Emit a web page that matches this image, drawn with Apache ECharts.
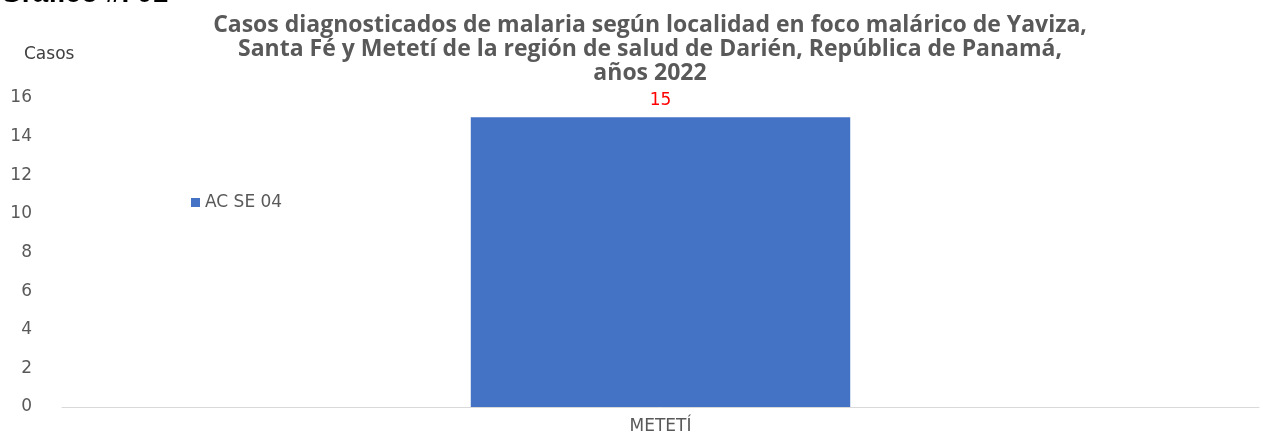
<!DOCTYPE html>
<html>
<head>
<meta charset="utf-8">
<style>
  html, body { margin: 0; padding: 0; background: #fff; }
  #chart { width: 1263px; height: 435px; }
</style>
<script src="https://cdn.jsdelivr.net/npm/echarts@6/dist/echarts.min.js"></script>
</head>
<body>
<div id="chart"></div>
<script>
const categories = ['METETÍ']
const seriesName = 'AC SE 04'
const casos = [15]
const yTicks = { min: 0, max: 16, interval: 2 }

const labelFont = 'DejaVu Sans'
const chart = echarts.init(document.getElementById('chart'))
chart.setOption({
  animation: false,
  textStyle: { fontFamily: labelFont },
  title: {
    text: 'Casos diagnosticados de malaria según localidad en foco malárico de Yaviza,\nSanta Fé y Metetí de la región de salud de Darién, República de Panamá,\naños 2022',
    left: 645,
    textAlign: 'center',
    top: 8,
    textStyle: {
      fontFamily: 'Open Sans',
      fontWeight: 'bold',
      fontSize: 23,
      lineHeight: 24,
      color: '#595959'
    }
  },
  graphic: [
    {
      type: 'text', left: 0, top: -20,
      style: { text: 'Gráfico #. 01', fontFamily: 'Liberation Sans', fontWeight: 'bold', fontSize: 28, fill: '#000' }
    },
    {
      type: 'text', left: 24, top: 46,
      style: { text: 'Casos', fontFamily: labelFont, fontSize: 17, fill: '#404040' }
    }
  ],
  legend: {
    left: 186,
    top: 189,
    icon: 'rect',
    itemWidth: 9,
    itemHeight: 9,
    itemGap: 4,
    textStyle: { fontFamily: labelFont, fontSize: 17, color: '#595959' },
    data: [seriesName]
  },
  grid: { left: 62, right: 4, top: 98, bottom: 27, containLabel: false },
  xAxis: {
    type: 'category',
    data: categories,
    axisTick: { show: false },
    axisLine: { lineStyle: { color: '#d9d9d9' } },
    axisLabel: { fontFamily: labelFont, color: '#595959', fontSize: 17, margin: 11 }
  },
  yAxis: {
    type: 'value',
    min: yTicks.min,
    max: yTicks.max,
    interval: yTicks.interval,
    splitLine: { show: false },
    axisLine: { show: false },
    axisTick: { show: false },
    axisLabel: { fontFamily: labelFont, color: '#595959', fontSize: 17, margin: 30 }
  },
  series: [{
    name: seriesName,
    type: 'bar',
    data: casos,
    barWidth: '31.7%',
    itemStyle: { color: '#4472C4' },
    label: { show: true, position: 'top', distance: 8, fontFamily: labelFont, color: '#ff0000', fontSize: 17 }
  }]
})
</script>
</body>
</html>
